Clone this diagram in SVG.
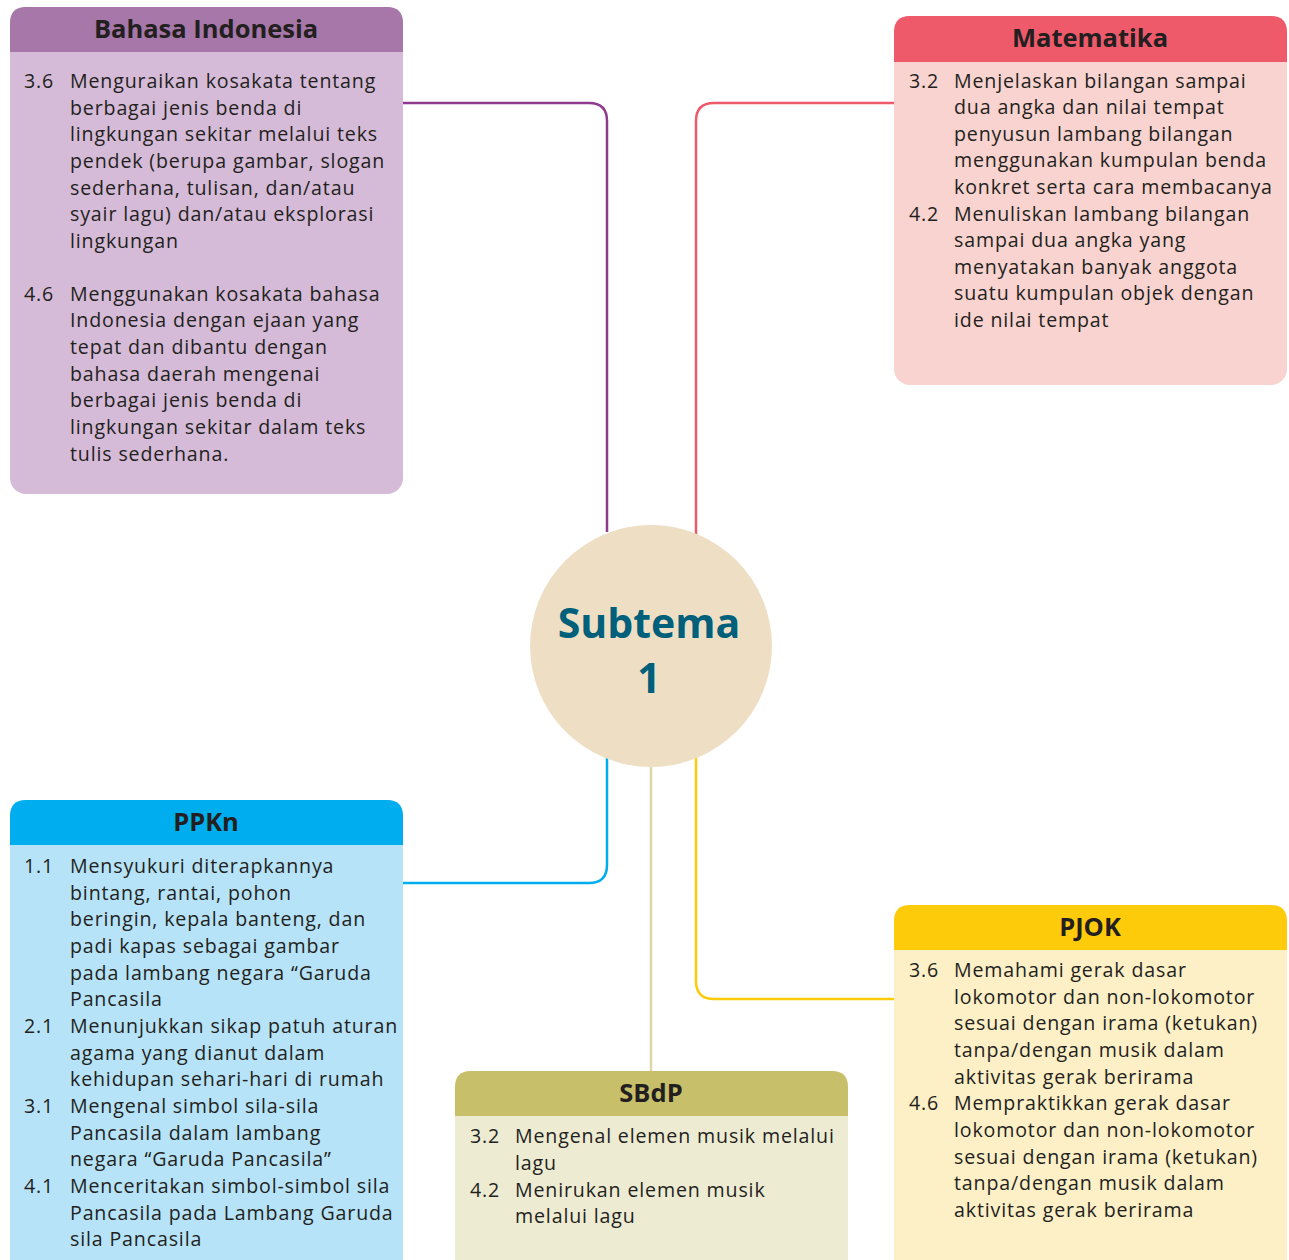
<svg xmlns="http://www.w3.org/2000/svg" width="1289" height="1260" viewBox="0 0 1289 1260">
<style>
.t{font-family:"Open Sans","Noto Sans",sans-serif;font-size:19.6px;letter-spacing:0.85px;fill:#231f20}
.h{font-family:"Open Sans","Noto Sans",sans-serif;font-size:25.5px;font-weight:bold;fill:#231f20;text-anchor:middle}
.c{fill:none;stroke-width:2.5}
</style>
<g id="connectors">
<path class="c" stroke="#8e3a8e" d="M398,103 H589 Q607,103 607,121 V532"/>
<path class="c" stroke="#ef5a6b" d="M894,103 H714 Q696,103 696,121 V535"/>
<path class="c" stroke="#00aeef" d="M607,758 V865 Q607,883 589,883 H403"/>
<path class="c" stroke="#ddd6a8" d="M651,767 V1071"/>
<path class="c" stroke="#fecb0b" d="M696,758 V981 Q696,999 714,999 H894"/>
</g>
<g id="center">
<circle cx="651" cy="646" r="121" fill="#eedfc4"/>
<text x="649" y="638" font-family="Open Sans, Noto Sans, sans-serif" font-size="41" font-weight="bold" fill="#005f7a" text-anchor="middle">Subtema</text>
<text x="649" y="693" font-family="Open Sans, Noto Sans, sans-serif" font-size="41" font-weight="bold" fill="#005f7a" text-anchor="middle">1</text>
</g>
<g id="bahasa">
<rect x="10" y="7" width="393" height="487" rx="16" fill="#d5bbd7"/>
<path d="M10,52 V23 Q10,7 26,7 H387 Q403,7 403,23 V52 Z" fill="#a677a8"/>
<text class="h" x="206" y="38">Bahasa Indonesia</text>
<text class="t"><tspan x="24" y="88">3.6</tspan><tspan x="70" y="88">Menguraikan kosakata tentang</tspan><tspan x="70" y="115">berbagai jenis benda di</tspan><tspan x="70" y="141">lingkungan sekitar melalui teks</tspan><tspan x="70" y="168">pendek (berupa gambar, slogan</tspan><tspan x="70" y="195">sederhana, tulisan, dan/atau</tspan><tspan x="70" y="221">syair lagu) dan/atau eksplorasi</tspan><tspan x="70" y="248">lingkungan</tspan></text>
<text class="t"><tspan x="24" y="301">4.6</tspan><tspan x="70" y="301">Menggunakan kosakata bahasa</tspan><tspan x="70" y="327">Indonesia dengan ejaan yang</tspan><tspan x="70" y="354">tepat dan dibantu dengan</tspan><tspan x="70" y="381">bahasa daerah mengenai</tspan><tspan x="70" y="407">berbagai jenis benda di</tspan><tspan x="70" y="434">lingkungan sekitar dalam teks</tspan><tspan x="70" y="461">tulis sederhana.</tspan></text>
</g>
<g id="matematika">
<rect x="894" y="16" width="393" height="369" rx="16" fill="#f9d3cf"/>
<path d="M894,62 V32 Q894,16 910,16 H1271 Q1287,16 1287,32 V62 Z" fill="#ef5a6b"/>
<text class="h" x="1090" y="47">Matematika</text>
<text class="t"><tspan x="909" y="88">3.2</tspan><tspan x="954" y="88">Menjelaskan bilangan sampai</tspan><tspan x="954" y="114">dua angka dan nilai tempat</tspan><tspan x="954" y="141">penyusun lambang bilangan</tspan><tspan x="954" y="167">menggunakan kumpulan benda</tspan><tspan x="954" y="194">konkret serta cara membacanya</tspan><tspan x="909" y="221">4.2</tspan><tspan x="954" y="221">Menuliskan lambang bilangan</tspan><tspan x="954" y="247">sampai dua angka yang</tspan><tspan x="954" y="274">menyatakan banyak anggota</tspan><tspan x="954" y="300">suatu kumpulan objek dengan</tspan><tspan x="954" y="327">ide nilai tempat</tspan></text>
</g>
<g id="ppkn">
<rect x="10" y="800" width="393" height="490" rx="16" fill="#b6e3f8"/>
<path d="M10,845 V816 Q10,800 26,800 H387 Q403,800 403,816 V845 Z" fill="#00aeef"/>
<text class="h" x="206" y="831">PPKn</text>
<text class="t"><tspan x="24" y="873">1.1</tspan><tspan x="70" y="873">Mensyukuri diterapkannya</tspan><tspan x="70" y="900">bintang, rantai, pohon</tspan><tspan x="70" y="926">beringin, kepala banteng, dan</tspan><tspan x="70" y="953">padi kapas sebagai gambar</tspan><tspan x="70" y="980">pada lambang negara “Garuda</tspan><tspan x="70" y="1006">Pancasila</tspan><tspan x="24" y="1033">2.1</tspan><tspan x="70" y="1033">Menunjukkan sikap patuh aturan</tspan><tspan x="70" y="1060">agama yang dianut dalam</tspan><tspan x="70" y="1086">kehidupan sehari-hari di rumah</tspan><tspan x="24" y="1113">3.1</tspan><tspan x="70" y="1113">Mengenal simbol sila-sila</tspan><tspan x="70" y="1140">Pancasila dalam lambang</tspan><tspan x="70" y="1166">negara “Garuda Pancasila”</tspan><tspan x="24" y="1193">4.1</tspan><tspan x="70" y="1193">Menceritakan simbol-simbol sila</tspan><tspan x="70" y="1220">Pancasila pada Lambang Garuda</tspan><tspan x="70" y="1246">sila Pancasila</tspan></text>
</g>
<g id="sbdp">
<rect x="455" y="1071" width="393" height="220" rx="16" fill="#eeebd3"/>
<path d="M455,1116 V1087 Q455,1071 471,1071 H832 Q848,1071 848,1087 V1116 Z" fill="#c8bf6a"/>
<text class="h" x="651" y="1102">SBdP</text>
<text class="t"><tspan x="470" y="1143">3.2</tspan><tspan x="515" y="1143">Mengenal elemen musik melalui</tspan><tspan x="515" y="1170">lagu</tspan><tspan x="470" y="1197">4.2</tspan><tspan x="515" y="1197">Menirukan elemen musik</tspan><tspan x="515" y="1223">melalui lagu</tspan></text>
</g>
<g id="pjok">
<rect x="894" y="905" width="393" height="385" rx="16" fill="#fdefc6"/>
<path d="M894,950 V921 Q894,905 910,905 H1271 Q1287,905 1287,921 V950 Z" fill="#fecb0b"/>
<text class="h" x="1090" y="936">PJOK</text>
<text class="t"><tspan x="909" y="977">3.6</tspan><tspan x="954" y="977">Memahami gerak dasar</tspan><tspan x="954" y="1004">lokomotor dan non-lokomotor</tspan><tspan x="954" y="1030">sesuai dengan irama (ketukan)</tspan><tspan x="954" y="1057">tanpa/dengan musik dalam</tspan><tspan x="954" y="1084">aktivitas gerak berirama</tspan><tspan x="909" y="1110">4.6</tspan><tspan x="954" y="1110">Mempraktikkan gerak dasar</tspan><tspan x="954" y="1137">lokomotor dan non-lokomotor</tspan><tspan x="954" y="1164">sesuai dengan irama (ketukan)</tspan><tspan x="954" y="1190">tanpa/dengan musik dalam</tspan><tspan x="954" y="1217">aktivitas gerak berirama</tspan></text>
</g>
</svg>
